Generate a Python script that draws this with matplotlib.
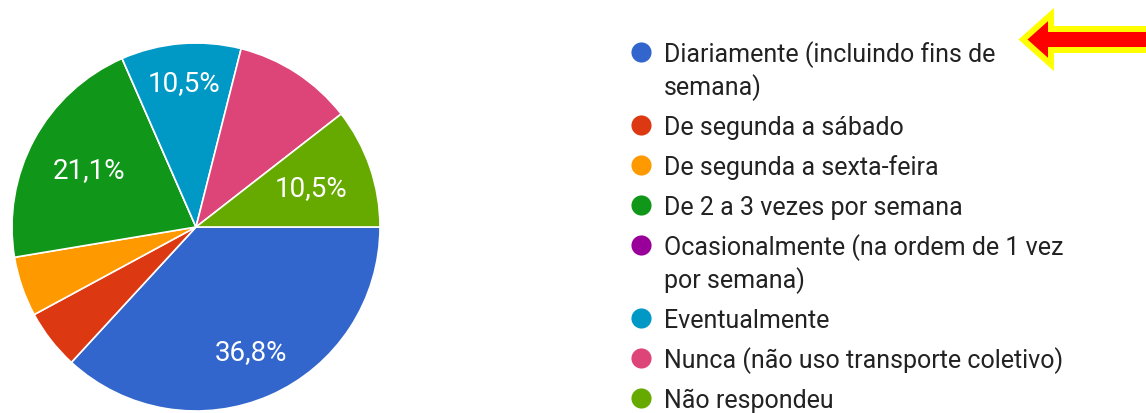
import matplotlib
matplotlib.use("Agg")
import matplotlib.pyplot as plt
from matplotlib.patches import Polygon
import numpy as np

plt.rcParams['font.family'] = ['Roboto', 'DejaVu Sans']

# respostas (contagens, total 19)
categorias = [
    "Diariamente (incluindo fins de\nsemana)",
    "De segunda a sábado",
    "De segunda a sexta-feira",
    "De 2 a 3 vezes por semana",
    "Ocasionalmente (na ordem de 1 vez\npor semana)",
    "Eventualmente",
    "Nunca (não uso transporte coletivo)",
    "Não respondeu",
]
respostas = [7, 1, 1, 4, 0, 2, 2, 2]
cores = ["#3366cc", "#dc3912", "#ff9900", "#109618",
         "#990099", "#0099c6", "#dd4477", "#66aa00"]
# rotulos visiveis no grafico original (a fatia rosa nao tem)
mostra_rotulo = [True, False, False, True, False, True, False, True]
dist_rotulo = [0.74, 0.7, 0.7, 0.66, 0.7, 0.79, 0.7, 0.66]

W, H = 1146, 414
fig = plt.figure(figsize=(W / 100, H / 100), dpi=100)

# pizza : centre (196, 228) px, rayon 184 px
cx, cy, R = 196, 228, 184
ax = fig.add_axes([(cx - R) / W, (H - cy - R) / H, 2 * R / W, 2 * R / H])
wedges, _ = ax.pie(respostas, colors=cores, startangle=0, counterclock=False,
                   radius=1.0,
                   wedgeprops=dict(edgecolor="white", linewidth=1.2))
ax.set_xlim(-1, 1)
ax.set_ylim(-1, 1)
ax.set_aspect("equal")
ax.axis("off")

total = sum(respostas)
for i, w in enumerate(wedges):
    if not mostra_rotulo[i]:
        continue
    ang = np.deg2rad((w.theta1 + w.theta2) / 2.0)
    d = dist_rotulo[i]
    txt = f"{respostas[i] / total * 100:.1f}%".replace(".", ",")
    ax.text(d * np.cos(ang), d * np.sin(ang), txt, color="white",
            fontsize=20, ha="center", va="center")

# calque en pixels pour la legende et la fleche
ov = fig.add_axes([0, 0, 1, 1])
ov.set_xlim(0, W)
ov.set_ylim(H, 0)
ov.axis("off")

y = 53
for i, lab in enumerate(categorias):
    linhas = lab.split("\n")
    ov.plot([641], [y], "o", color=cores[i], markersize=14.5, markeredgewidth=0)
    for k, ln in enumerate(linhas):
        ov.text(664, y + 33 * k + 9, ln, fontsize=18, color="#222222",
                ha="left", va="baseline")
    y = y + 40 + 33 * (len(linhas) - 1)

# fleche rouge a bord jaune
fleche = Polygon([(1023, 40.5), (1051, 15.5), (1051, 30), (1170, 30),
                  (1170, 51), (1051, 51), (1051, 65.5)], closed=True,
                 facecolor="red", edgecolor="yellow", linewidth=4.3,
                 joinstyle="miter")
ov.add_patch(fleche)

fig.savefig("out.png", dpi=100)
